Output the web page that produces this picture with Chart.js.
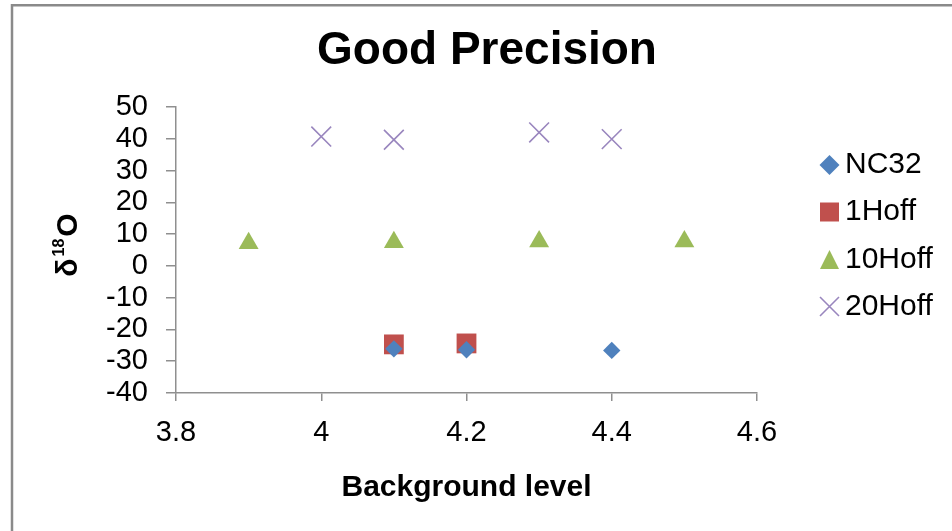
<!DOCTYPE html>
<html>
<head>
<meta charset="utf-8">
<title>Good Precision</title>
<script src="https://cdn.jsdelivr.net/npm/chart.js@4.4.1/dist/chart.umd.min.js"></script>
<style>
  html, body { margin: 0; padding: 0; background: #ffffff; }
  #wrap { width: 952px; height: 531px; position: relative; }
</style>
</head>
<body>
<div id="wrap"><canvas id="c" width="952" height="531"></canvas></div>
<script>
// ---- chart text ----
const chartTitle = 'Good Precision';
const xAxisTitle = 'Background level';
const seriesNames = ['NC32', '1Hoff', '10Hoff', '20Hoff'];

// ---- tick labels ----
const xTicks = [3.8, 4, 4.2, 4.4, 4.6];
const yTicks = [-40, -30, -20, -10, 0, 10, 20, 30, 40, 50];

// ---- series values (background level, delta-18O) ----
const nc32X = [4.1, 4.2, 4.4];
const nc32Y = [-26.1, -26.4, -26.6];
const hoff1X = [4.1, 4.2];
const hoff1Y = [-24.7, -24.4];
const hoff10X = [3.9, 4.1, 4.3, 4.5];
const hoff10Y = [7.1, 7.4, 7.7, 7.7];
const hoff20X = [4.0, 4.1, 4.3, 4.4];
const hoff20Y = [40.7, 39.7, 42.0, 39.9];

const FONT = "'Liberation Sans', Arial, sans-serif";
const COLORS = ['#4F81BD', '#C0504D', '#9BBB59', '#9986BE'];

const toPoints = (xs, ys) => xs.map((x, i) => ({ x: x, y: ys[i] }));

// frame, title, rotated y title with superscript, and legend
const decor = {
  id: 'decor',
  beforeDraw(chart) {
    const ctx = chart.ctx;
    ctx.save();
    ctx.strokeStyle = '#8a8a8a';
    ctx.lineWidth = 2.5;
    ctx.beginPath();
    ctx.moveTo(12, 540);
    ctx.lineTo(12, 5.2);
    ctx.lineTo(960, 5.2);
    ctx.stroke();
    ctx.restore();
  },
  afterDraw(chart) {
    const ctx = chart.ctx;
    ctx.save();
    ctx.fillStyle = '#000';
    // title
    ctx.font = 'bold 46px ' + FONT;
    ctx.textAlign = 'center';
    ctx.textBaseline = 'middle';
    ctx.fillText(chartTitle, 487, 51);

    // y title: delta 18 O
    ctx.save();
    ctx.translate(77, 245);
    ctx.rotate(-Math.PI / 2);
    ctx.textAlign = 'left';
    ctx.textBaseline = 'alphabetic';
    const big = 'bold 30px ' + FONT, small = 'bold 16px ' + FONT;
    ctx.font = big; const wD = ctx.measureText('\u03B4').width;
    const wO = ctx.measureText('O').width;
    ctx.font = small; const wS = ctx.measureText('18').width;
    let x0 = -(wD + wS + wO + 4) / 2;
    ctx.font = big; ctx.fillText('\u03B4', x0, 0); x0 += wD + 2;
    ctx.font = small; ctx.fillText('18', x0, -13); x0 += wS + 2;
    ctx.font = big; ctx.fillText('O', x0, 0);
    ctx.restore();

    // legend
    const lx = 829.5, ly = [165, 212, 259.5, 306.5];
    ctx.font = '30px ' + FONT;
    ctx.textAlign = 'left';
    ctx.textBaseline = 'middle';
    seriesNames.forEach((name, i) => {
      const y = ly[i];
      ctx.fillStyle = COLORS[i];
      ctx.strokeStyle = COLORS[i];
      ctx.beginPath();
      if (i === 0) {
        ctx.moveTo(lx, y - 10); ctx.lineTo(lx + 10, y); ctx.lineTo(lx, y + 10); ctx.lineTo(lx - 10, y);
        ctx.closePath(); ctx.fill();
      } else if (i === 1) {
        ctx.rect(lx - 9.5, y - 9.5, 19, 19); ctx.fill();
      } else if (i === 2) {
        ctx.moveTo(lx, y - 9.5); ctx.lineTo(lx + 9.5, y + 9.5); ctx.lineTo(lx - 9.5, y + 9.5);
        ctx.closePath(); ctx.fill();
      } else {
        ctx.lineWidth = 1.6;
        ctx.moveTo(lx - 9.5, y - 9.5); ctx.lineTo(lx + 9.5, y + 9.5);
        ctx.moveTo(lx + 9.5, y - 9.5); ctx.lineTo(lx - 9.5, y + 9.5);
        ctx.stroke();
      }
      ctx.fillStyle = '#000';
      ctx.fillText(name, 845, y);
    });
    ctx.restore();
  }
};

new Chart(document.getElementById('c'), {
  type: 'scatter',
  data: {
    datasets: [
      { label: seriesNames[0], data: toPoints(nc32X, nc32Y), pointStyle: 'rectRot', pointRadius: 8.7,
        backgroundColor: COLORS[0], borderColor: COLORS[0], borderWidth: 0 },
      { label: seriesNames[1], data: toPoints(hoff1X, hoff1Y), pointStyle: 'rect', pointRadius: 14,
        backgroundColor: COLORS[1], borderColor: COLORS[1], borderWidth: 0 },
      { label: seriesNames[2], data: toPoints(hoff10X, hoff10Y), pointStyle: 'triangle', pointRadius: 11.5,
        backgroundColor: COLORS[2], borderColor: COLORS[2], borderWidth: 0 },
      { label: seriesNames[3], data: toPoints(hoff20X, hoff20Y), pointStyle: 'crossRot', pointRadius: 14,
        backgroundColor: COLORS[3], borderColor: COLORS[3], borderWidth: 1.6 }
    ]
  },
  options: {
    responsive: false,
    animation: false,
    devicePixelRatio: 1,
    layout: { padding: { left: 0, top: 107, right: 195, bottom: 0 } },
    plugins: {
      legend: { display: false },
      title: { display: false },
      tooltip: { enabled: false }
    },
    scales: {
      x: {
        type: 'linear',
        min: 3.8, max: 4.6,
        afterBuildTicks: s => { s.ticks = xTicks.map(v => ({ value: v })); },
        afterFit: s => { s.height = 138; },
        ticks: { color: '#000', font: { family: FONT, size: 29 }, padding: 15,
                 maxRotation: 0, autoSkip: false, callback: v => String(v) },
        grid: { drawOnChartArea: false, drawTicks: true, tickLength: 8, color: '#8f8f8f', lineWidth: 1.5 },
        border: { display: true, color: '#8f8f8f', width: 1.5 },
        title: { display: true, text: xAxisTitle, color: '#000',
                 font: { family: FONT, size: 30, weight: 'bold' }, padding: { top: 0, bottom: 25 } }
      },
      y: {
        type: 'linear',
        min: -40, max: 50,
        afterBuildTicks: s => { s.ticks = yTicks.map(v => ({ value: v })); },
        afterFit: s => { s.width = 176; },
        ticks: { color: '#000', font: { family: FONT, size: 29 }, padding: 18,
                 autoSkip: false, callback: v => String(v) },
        grid: { drawOnChartArea: false, drawTicks: true, tickLength: 10, color: '#8f8f8f', lineWidth: 1.5 },
        border: { display: true, color: '#8f8f8f', width: 1.5 }
      }
    }
  },
  plugins: [decor]
});
</script>
</body>
</html>
